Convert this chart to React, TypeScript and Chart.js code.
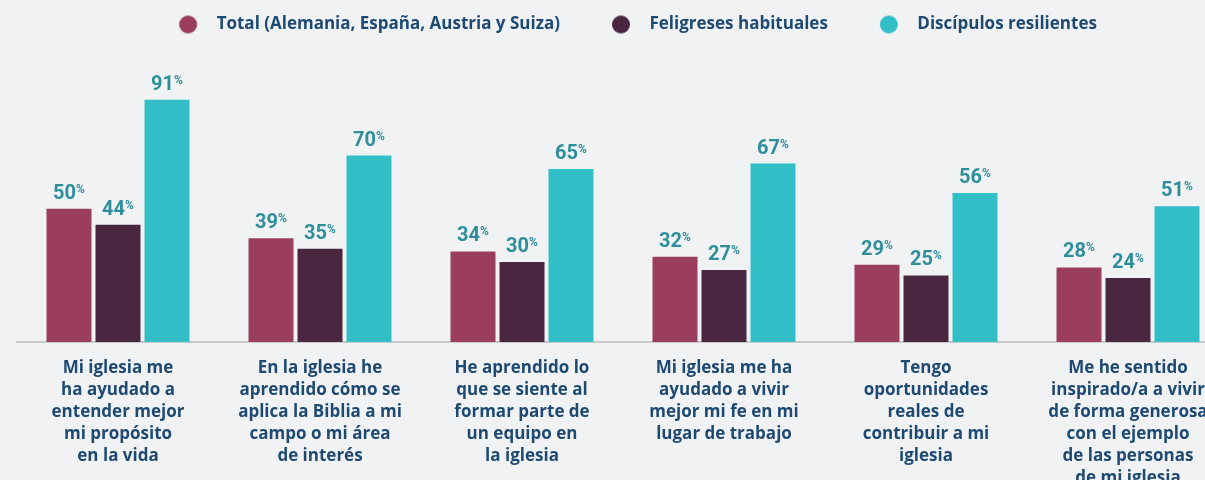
import React, { useEffect, useRef } from "react";
import { Chart, registerables } from "chart.js";

Chart.register(...registerables);

const categories: string[][] = [
  ["Mi iglesia me", "ha ayudado a", "entender mejor", "mi propósito", "en la vida"],
  ["En la iglesia he", "aprendido cómo se", "aplica la Biblia a mi", "campo o mi área", "de interés"],
  ["He aprendido lo", "que se siente al", "formar parte de", "un equipo en", "la iglesia"],
  ["Mi iglesia me ha", "ayudado a vivir", "mejor mi fe en mi", "lugar de trabajo"],
  ["Tengo", "oportunidades", "reales de", "contribuir a mi", "iglesia"],
  ["Me he sentido", "inspirado/a a vivir", "de forma generosa", "con el ejemplo", "de las personas", "de mi iglesia"],
];

const seriesNames = [
  "Total (Alemania, España, Austria y Suiza)",
  "Feligreses habituales",
  "Discípulos resilientes",
];

const totalValues = [50, 39, 34, 32, 29, 28];
const feligresesValues = [44, 35, 30, 27, 25, 24];
const discipulosValues = [91, 70, 65, 67, 56, 51];

const seriesColors = ["#9b3e5e", "#4a2640", "#32bfc7"];

const BG = "#f1f2f4";
const TEXT_BLUE = "#1e4a72";
const VALUE_TEAL = "#2e8f9b";
const LABEL_FONT = "'Open Sans', sans-serif";
const VALUE_FONT = "Roboto, 'Open Sans', sans-serif";

const Y_AXIS_W = 8;
const CANVAS_W = 1229;

function makeMarker(color: string): HTMLCanvasElement {
  const c = document.createElement("canvas");
  c.width = 67;
  c.height = 20;
  const ctx = c.getContext("2d")!;
  ctx.fillStyle = color;
  ctx.beginPath();
  ctx.arc(47, 10, 9, 0, Math.PI * 2);
  ctx.fill();
  return c;
}

const valueLabelPlugin = {
  id: "valueLabels",
  afterDatasetsDraw(chart: any) {
    const ctx = chart.ctx as CanvasRenderingContext2D;
    ctx.save();
    chart.data.datasets.forEach((ds: any, di: number) => {
      const meta = chart.getDatasetMeta(di);
      meta.data.forEach((bar: any, i: number) => {
        const num = String(ds.data[i]);
        ctx.font = `bold 20px ${VALUE_FONT}`;
        const wNum = ctx.measureText(num).width;
        ctx.font = `bold 12px ${VALUE_FONT}`;
        const wPct = ctx.measureText("%").width;
        const total = wNum + wPct;
        const x0 = bar.x - total / 2;
        const base = bar.y - 10;
        ctx.fillStyle = VALUE_TEAL;
        ctx.textAlign = "left";
        ctx.textBaseline = "alphabetic";
        ctx.font = `bold 20px ${VALUE_FONT}`;
        ctx.fillText(num, x0, base);
        ctx.font = `bold 12px ${VALUE_FONT}`;
        ctx.fillText("%", x0 + wNum, base - 6);
      });
    });
    ctx.restore();
  },
};

export default function App() {
  const ref = useRef<HTMLCanvasElement | null>(null);

  useEffect(() => {
    if (!ref.current) return;
    const markers = seriesColors.map(makeMarker);
    const chart = new Chart(ref.current, {
      type: "bar",
      data: {
        labels: categories,
        datasets: [
          { label: seriesNames[0], data: totalValues, backgroundColor: seriesColors[0] },
          { label: seriesNames[1], data: feligresesValues, backgroundColor: seriesColors[1] },
          { label: seriesNames[2], data: discipulosValues, backgroundColor: seriesColors[2] },
        ],
      },
      options: {
        responsive: false,
        animation: false,
        devicePixelRatio: 1,
        layout: { padding: { left: 17 - Y_AXIS_W, right: 0, top: 2, bottom: 0 } },
        datasets: {
          bar: { categoryPercentage: 147 / 202, barPercentage: 45 / 49 },
        },
        plugins: {
          tooltip: { enabled: false },
          legend: {
            position: "top",
            labels: {
              usePointStyle: true,
              pointStyleWidth: 67,
              boxHeight: 13,
              padding: 14,
              color: TEXT_BLUE,
              font: { family: LABEL_FONT, size: 17, weight: "bold" },
              generateLabels: (c: any) => {
                const items = (Chart.defaults as any).plugins.legend.labels.generateLabels(c);
                items.forEach((it: any, i: number) => {
                  it.pointStyle = markers[i];
                });
                return items;
              },
            },
          },
        },
        scales: {
          x: {
            grid: { display: false },
            border: { display: true, color: "#c9cacc", width: 2 },
            ticks: {
              color: TEXT_BLUE,
              font: { family: LABEL_FONT, size: 17, weight: "bold", lineHeight: 22 / 17 },
              padding: 7,
              autoSkip: false,
              maxRotation: 0,
              minRotation: 0,
            },
            afterFit: (scale: any) => {
              scale.height = 138;
            },
          },
          y: {
            position: "left",
            min: 0,
            max: 112.3,
            grid: { display: false },
            border: { display: false },
            ticks: { display: false },
            afterFit: (scale: any) => {
              scale.width = Y_AXIS_W;
            },
          },
        },
      },
      plugins: [valueLabelPlugin],
    });
    return () => chart.destroy();
  }, []);

  return (
    <div
      style={{
        position: "fixed",
        left: 0,
        top: 0,
        width: 1205,
        height: 480,
        overflow: "hidden",
        background: BG,
      }}
    >
      <canvas ref={ref} width={CANVAS_W} height={480} style={{ display: "block" }} />
    </div>
  );
}
